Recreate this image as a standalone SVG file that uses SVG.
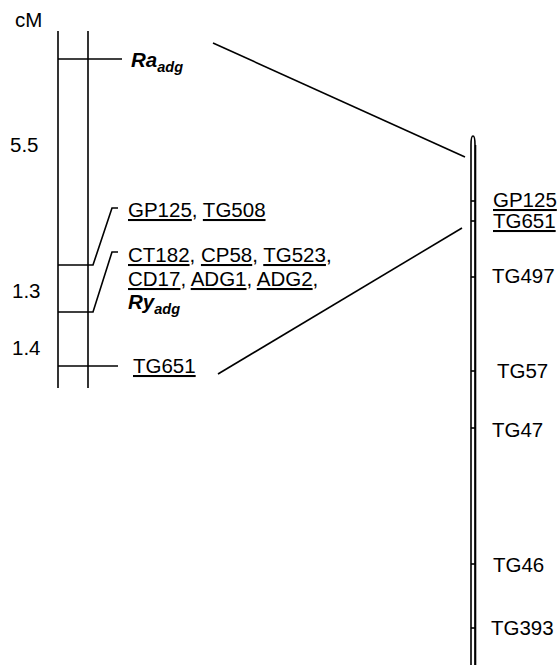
<svg xmlns="http://www.w3.org/2000/svg" width="559" height="665" viewBox="0 0 559 665">
<style>
text{font-family:"Liberation Sans",Arial,sans-serif;font-size:20.5px;fill:#000}
.u{text-decoration:underline}
.bi{font-weight:bold;font-style:italic}
.sub{font-size:14.5px;font-weight:bold;font-style:italic}
line,path{stroke:#000;fill:none;stroke-width:1.6}
</style>
<rect width="559" height="665" fill="#fff"/>
<g id="scale">
<text x="15" y="27">cM</text>
<text x="10" y="152">5.5</text>
<text x="12" y="298">1.3</text>
<text x="12" y="355">1.4</text>
</g>
<g id="left-chromosome">
<line x1="58" y1="31" x2="58" y2="388"/>
<line x1="88" y1="31" x2="88" y2="388"/>
</g>
<g id="Ra">
<line x1="58" y1="59" x2="122" y2="59"/>
<text x="131" y="67"><tspan class="bi">Ra</tspan><tspan class="sub" dy="5">adg</tspan></text>
</g>
<g id="GP125-TG508">
<path d="M58,265 H93 L112,208 H118"/>
<text x="128" y="217"><tspan class="u">GP125</tspan>, <tspan class="u">TG508</tspan></text>
</g>
<g id="CT182-group">
<path d="M58,312 H93 L112,252 H118"/>
<text x="128" y="262"><tspan class="u">CT182</tspan>, <tspan class="u">CP58</tspan>, <tspan class="u">TG523</tspan>,</text>
<text x="128" y="286"><tspan class="u">CD17</tspan>, <tspan class="u">ADG1</tspan>, <tspan class="u">ADG2</tspan>,</text>
<text x="128" y="309"><tspan class="bi">Ry</tspan><tspan class="sub" dy="5">adg</tspan></text>
</g>
<g id="TG651-left">
<line x1="58" y1="366" x2="118" y2="366"/>
<text x="133" y="373" class="u">TG651</text>
</g>
<g id="connectors">
<line x1="213" y1="43" x2="465" y2="157"/>
<line x1="218" y1="374" x2="462" y2="228"/>
</g>
<g id="right-chromosome">
<path d="M471,665 V145 Q471,136 473,136 Q475,136 475,145 V665" stroke-width="1.3"/>
<line x1="475.5" y1="145" x2="475.5" y2="665" stroke-width="2"/>
</g>
<g id="GP125-right">
<line x1="471" y1="201" x2="476" y2="201"/>
<text x="493" y="207" class="u">GP125</text>
</g>
<g id="TG651-right">
<line x1="471" y1="221" x2="476" y2="221"/>
<text x="493" y="228" class="u">TG651</text>
</g>
<g id="TG497">
<line x1="471" y1="277" x2="476" y2="277"/>
<text x="492" y="283">TG497</text>
</g>
<g id="TG57">
<line x1="471" y1="371" x2="476" y2="371"/>
<text x="497" y="378">TG57</text>
</g>
<g id="TG47">
<line x1="471" y1="428" x2="476" y2="428"/>
<text x="492" y="437">TG47</text>
</g>
<g id="TG46">
<line x1="471" y1="564" x2="476" y2="564"/>
<text x="493" y="572">TG46</text>
</g>
<g id="TG393">
<line x1="471" y1="628" x2="476" y2="628"/>
<text x="491" y="635">TG393</text>
</g>
</svg>
